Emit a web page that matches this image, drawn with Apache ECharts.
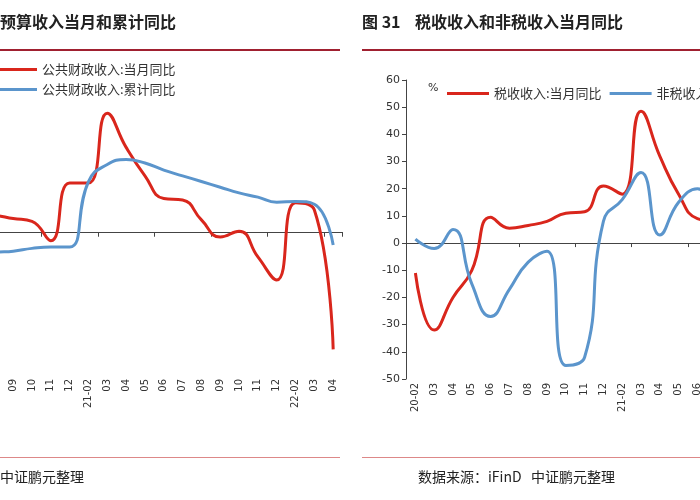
<!DOCTYPE html>
<html><head><meta charset="utf-8">
<script src="https://cdn.jsdelivr.net/npm/echarts@6/dist/echarts.min.js"></script>
<style>html,body{margin:0;padding:0;background:#fff;overflow:hidden;width:700px;height:500px;position:relative}#c{position:absolute;left:-128px;top:0;width:1004px;height:500px}</style>
</head><body><div id="c"></div>
<script>
var categories = ['20-02','03','04','05','06','07','08','09','10','11','12','21-02','03','04','05','06','07','08','09','10','11','12','22-02','03','04'];
var leftMonthly = [-21,-26,-15,-10,3,-1,6,5,4,-2.8,17.5,17.5,42,30,20,12,11.5,4.5,-1.5,0.5,-8.5,-16.6,10.5,8,-41];
var leftCumul = [-9.9,-14.3,-14.5,-13.6,-10,-10.8,-7,-6.5,-5.5,-5,-5,18,24,25.7,24.5,22,20,18,16,14,12.5,10.7,11,10,-4.3];
var taxMonthly = [-11,-32,-20,-10,9.5,5.5,6.5,8,11,11.5,21,18,48.5,32,18,9,8,10,6,2,-2,-3,9,3,-40];
var nonTaxMonthly = [1.5,-2,5,-15,-27,-17,-7,-3,-45,-42,8,16,26,3,15,20,10,5,-5,-10,-20,-5,20,15,-50];
var RED='#d9261c', BLUE='#5b95cc';
var fontF='"Noto Sans CJK SC", sans-serif';
var X=128;
var xLab = {rotate:90,fontSize:10,color:'#333',interval:0,fontFamily:'DejaVu Sans',margin:4};
var chart = echarts.init(document.getElementById('c'));
chart.setOption({
  animation:false,
  textStyle:{fontFamily:fontF},
  grid:[{left:0,width:470.6,top:62,bottom:125},{left:406+X,width:470,top:80,bottom:121}],
  xAxis:[
    {gridIndex:0,type:'category',data:categories,axisLine:{onZero:true,lineStyle:{color:'#444'}},axisTick:{show:true,length:4,lineStyle:{color:'#444'}},axisLabel:{show:false}},
    {gridIndex:0,type:'category',data:categories,position:'bottom',axisLine:{show:false,onZero:false},axisTick:{show:false},axisLabel:xLab},
    {gridIndex:1,type:'category',data:categories,axisLine:{onZero:true,lineStyle:{color:'#444'}},axisTick:{show:true,length:4,lineStyle:{color:'#444'}},axisLabel:{show:false}},
    {gridIndex:1,type:'category',data:categories,position:'bottom',axisLine:{show:false,onZero:false},axisTick:{show:false},axisLabel:xLab}
  ],
  yAxis:[
    {gridIndex:0,type:'value',min:-50,max:60,interval:10,show:false,splitLine:{show:false}},
    {gridIndex:1,type:'value',min:-50,max:60,interval:10,splitLine:{show:false},
     axisLine:{show:true,lineStyle:{color:'#444'}},axisTick:{show:true,length:4,lineStyle:{color:'#444'}},
     axisLabel:{fontSize:11,color:'#333',fontFamily:'DejaVu Sans',margin:6}}
  ],
  legend:[
    {orient:'vertical',left:-30+X,top:58,itemWidth:62,itemHeight:3,itemGap:7,icon:'rect',
     textStyle:{fontSize:13,color:'#333'},data:['公共财政收入:当月同比','公共财政收入:累计同比']},
    {orient:'horizontal',left:442+X,top:82,itemWidth:42,itemHeight:3,itemGap:8,icon:'rect',
     textStyle:{fontSize:13,color:'#333'},data:['税收收入:当月同比','非税收入:当月同比']}
  ],
  series:[
    {name:'公共财政收入:当月同比',type:'line',xAxisIndex:0,yAxisIndex:0,data:leftMonthly,smooth:true,showSymbol:false,lineStyle:{width:3,color:RED},itemStyle:{color:RED}},
    {name:'公共财政收入:累计同比',type:'line',xAxisIndex:0,yAxisIndex:0,data:leftCumul,smooth:true,showSymbol:false,lineStyle:{width:3,color:BLUE},itemStyle:{color:BLUE}},
    {name:'税收收入:当月同比',type:'line',xAxisIndex:2,yAxisIndex:1,data:taxMonthly,smooth:true,showSymbol:false,lineStyle:{width:3,color:RED},itemStyle:{color:RED}},
    {name:'非税收入:当月同比',type:'line',xAxisIndex:2,yAxisIndex:1,data:nonTaxMonthly,smooth:true,showSymbol:false,lineStyle:{width:3,color:BLUE},itemStyle:{color:BLUE}}
  ],
  graphic:[
    {type:'text',left:0+X,top:14,style:{text:'预算收入当月和累计同比',font:'bold 16px "Noto Sans CJK SC"',fill:'#222'}},
    {type:'text',left:362+X,top:14,style:{text:'图 31    税收收入和非税收入当月同比',font:'bold 16px "Noto Sans CJK SC"',fill:'#222'}},
    {type:'rect',shape:{x:0+X,y:49,width:340,height:2},style:{fill:'#a02030'}},
    {type:'rect',shape:{x:362+X,y:49,width:338,height:2},style:{fill:'#a02030'}},
    {type:'rect',shape:{x:0+X,y:457,width:340,height:1},style:{fill:'#d88'}},
    {type:'rect',shape:{x:362+X,y:457,width:338,height:1},style:{fill:'#d88'}},
    {type:'text',left:428+X,top:83,style:{text:'%',font:'11px "DejaVu Sans"',fill:'#333'}},
    {type:'text',left:0+X,top:470,style:{text:'中证鹏元整理',font:'14px "Noto Sans CJK SC"',fill:'#222'}},
    {type:'text',left:418+X,top:470,style:{text:'数据来源：iFinD   中证鹏元整理',font:'14px "Noto Sans CJK SC"',fill:'#222'}}
  ]
});
</script></body></html>
